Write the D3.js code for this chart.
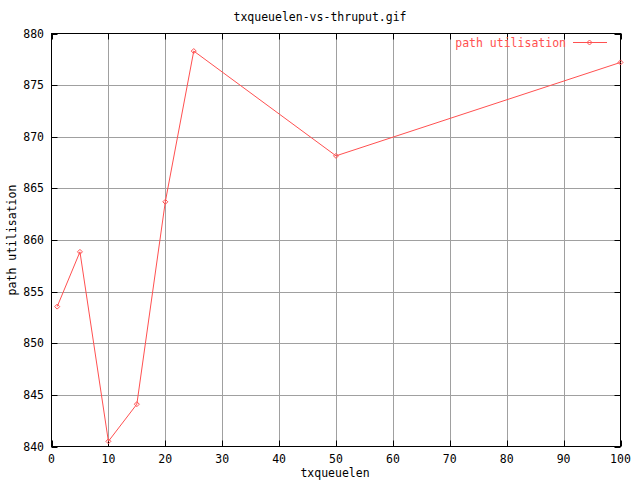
<!DOCTYPE html>
<html><head><meta charset="utf-8">
<script src="https://cdn.jsdelivr.net/npm/d3@7"></script>
<style>
body{margin:0;background:#fff;}
text{font-family:"DejaVu Sans Mono","Liberation Mono",monospace;font-size:11.5px;}
</style></head>
<body><svg id="c" width="640" height="480"></svg>
<script>
const txqueuelen = [1, 5, 10, 15, 20, 25, 50, 100];
const utilisation = [853.55, 858.85, 840.5, 844.1, 863.7, 878.3, 868.15, 877.2];
const xTicks = [0,10,20,30,40,50,60,70,80,90,100];
const yTicks = [840,845,850,855,860,865,870,875,880];
const title = "txqueuelen-vs-thruput.gif";
const xLabel = "txqueuelen";
const yLabel = "path utilisation";
const seriesName = "path utilisation";

const svg = d3.select("#c");
const L=51.5, R=620.5, T=33.5, B=446.5;
const x = d3.scaleLinear().domain([0,100]).range([L,R]);
const y = d3.scaleLinear().domain([840,880]).range([B,T]);
const red = "#ff5050", grid = "#a0a0a0";

svg.append("rect").attr("width",640).attr("height",480).attr("fill","#fff");

// grid
svg.append("g").selectAll("line").data(xTicks.slice(1,-1)).join("line")
  .attr("x1",d=>Math.round(x(d))+0.5).attr("x2",d=>Math.round(x(d))+0.5)
  .attr("y1",T).attr("y2",B).attr("stroke",grid);
svg.append("g").selectAll("line").data(yTicks.slice(1,-1)).join("line")
  .attr("y1",d=>Math.round(y(d))+0.5).attr("y2",d=>Math.round(y(d))+0.5)
  .attr("x1",L).attr("x2",R).attr("stroke",grid);

// ticks (inward, all sides)
const tk = svg.append("g").attr("stroke","#000");
xTicks.forEach(d=>{
  const px = Math.round(x(d))+0.5;
  tk.append("line").attr("x1",px).attr("x2",px).attr("y1",B).attr("y2",B-6);
  tk.append("line").attr("x1",px).attr("x2",px).attr("y1",T).attr("y2",T+6);
});
yTicks.forEach(d=>{
  const py = Math.round(y(d))+0.5;
  tk.append("line").attr("y1",py).attr("y2",py).attr("x1",L).attr("x2",L+6);
  tk.append("line").attr("y1",py).attr("y2",py).attr("x1",R).attr("x2",R-6);
});

// border
svg.append("rect").attr("x",L).attr("y",T).attr("width",R-L).attr("height",B-T)
  .attr("fill","none").attr("stroke","#000");

// tick labels
svg.append("g").selectAll("text").data(xTicks).join("text")
  .attr("x",d=>x(d)).attr("y",B+16).attr("text-anchor","middle").text(d=>d);
svg.append("g").selectAll("text").data(yTicks).join("text")
  .attr("x",44).attr("y",d=>y(d)+4).attr("text-anchor","end").text(d=>d);

// titles
svg.append("text").attr("x",320).attr("y",21).attr("text-anchor","middle").text(title);
svg.append("text").attr("x",335).attr("y",477).attr("text-anchor","middle").text(xLabel);
svg.append("text").attr("transform","translate(16,240) rotate(-90)").attr("text-anchor","middle").text(yLabel);

// series
const pts = txqueuelen.map((d,i)=>[x(d), y(utilisation[i])]);
svg.append("path").attr("d",d3.line()(pts)).attr("fill","none").attr("stroke",red).attr("stroke-width",1);
const diamond = (cx,cy)=>`M${cx},${cy-2.5}L${cx+2.5},${cy}L${cx},${cy+2.5}L${cx-2.5},${cy}Z`;
svg.append("g").selectAll("path").data(pts).join("path")
  .attr("d",d=>diamond(d[0],d[1])).attr("fill","none").attr("stroke",red);

// legend
svg.append("text").attr("x",566).attr("y",46.5).attr("text-anchor","end").attr("fill",red).text(seriesName);
svg.append("line").attr("x1",573).attr("x2",607).attr("y1",42.5).attr("y2",42.5).attr("stroke",red);
svg.append("path").attr("d",diamond(589.5,42.5)).attr("fill","none").attr("stroke",red);
</script></body></html>
